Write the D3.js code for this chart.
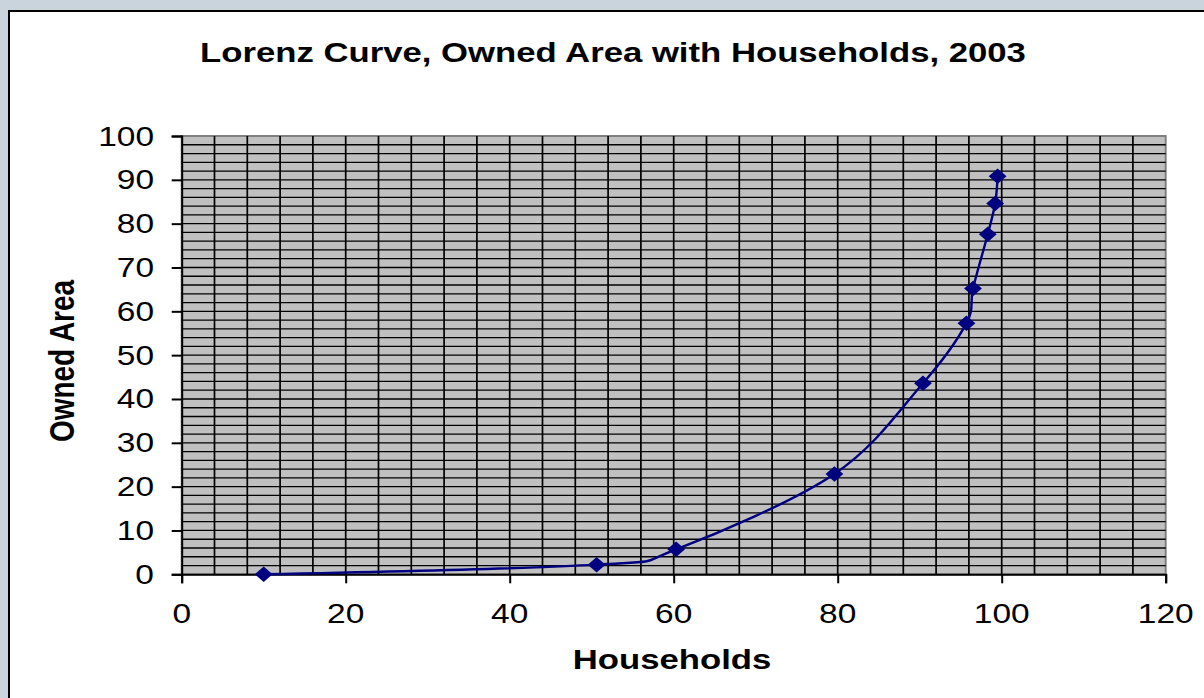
<!DOCTYPE html>
<html lang="en">
<head>
  <meta charset="utf-8">
  <title>Lorenz Curve, Owned Area with Households, 2003</title>
  <style>
    body {
      margin: 0;
      background-color: #c9d4dc;
      overflow: hidden;
    }

    text {
      font-family: Arial, "Liberation Sans", sans-serif;
      fill: #000;
    }

    .title, .axis-title {
      font-size: 28px;
      font-weight: bold;
    }

    .tick-label {
      font-size: 27px;
    }
  </style>
</head>
<body>

  <svg width="1204" height="698"></svg>
  <script src="https://d3js.org/d3.v7.min.js"></script>
  <script>

  // cumulative % of households / cumulative % of owned area
  var households = [10, 50.6, 60.3, 79.6, 90.4, 95.7, 96.5, 98.3, 99.2, 99.5];
  var ownedArea  = [0, 2.2, 5.7, 22.9, 43.6, 57.3, 65.2, 77.6, 84.6, 90.8];

  var xTicks = [0, 20, 40, 60, 80, 100, 120];
  var yTicks = [0, 10, 20, 30, 40, 50, 60, 70, 80, 90, 100];

  var svg = d3.select("svg"),
      width = +svg.attr("width"),
      height = +svg.attr("height");

  // the picture is stretched sideways a bit, text too
  var stretch = 1.24;

  var plot = { left: 181.7, right: 1165.7, top: 136, bottom: 574.3 };

  var x = d3.scaleLinear().domain([0, 120]).range([plot.left, plot.right]);
  var y = d3.scaleLinear().domain([0, 100]).range([plot.bottom, plot.top]);

  // chart area (runs off the right and bottom edge)
  svg.append("rect")
      .attr("x", 9)
      .attr("y", 11)
      .attr("width", width + 20)
      .attr("height", height + 20)
      .attr("fill", "#fff")
      .attr("stroke", "#000")
      .attr("stroke-width", 2);

  svg.append("text")
      .attr("class", "title")
      .attr("text-anchor", "middle")
      .attr("transform", "translate(613,62) scale(" + stretch + ",1)")
      .text("Lorenz Curve, Owned Area with Households, 2003");

  // plot area
  svg.append("rect")
      .attr("x", plot.left)
      .attr("y", plot.top)
      .attr("width", plot.right - plot.left)
      .attr("height", plot.bottom - plot.top)
      .attr("fill", "#c0c0c0")
      .attr("stroke", "#808080")
      .attr("stroke-width", 2);

  var grid = svg.append("g").attr("class", "grid");

  grid.selectAll("line.v")
      .data(d3.range(4, 120, 4))
      .enter().append("line")
        .attr("class", "v")
        .attr("x1", function(d) { return x(d); })
        .attr("x2", function(d) { return x(d); })
        .attr("y1", plot.top)
        .attr("y2", plot.bottom)
        .attr("stroke", "#000")
        .attr("stroke-width", 1.7);

  grid.selectAll("line.h")
      .data(d3.range(2, 100, 2))
      .enter().append("line")
        .attr("class", "h")
        .attr("x1", plot.left)
        .attr("x2", plot.right)
        .attr("y1", function(d) { return y(d); })
        .attr("y2", function(d) { return y(d); })
        .attr("stroke", "#000")
        .attr("stroke-width", 1.3);

  // axes
  var xAxis = d3.axisBottom(x).tickValues(xTicks).tickSize(9).tickFormat("");
  var yAxis = d3.axisLeft(y).tickValues(yTicks).tickSize(10).tickFormat("");

  svg.append("g")
      .attr("transform", "translate(0," + plot.bottom + ")")
      .call(xAxis)
      .call(function(g) {
        g.select(".domain").attr("stroke", "#000").attr("stroke-width", 2);
        g.selectAll(".tick line").attr("stroke", "#000").attr("stroke-width", 2);
      });

  svg.append("g")
      .attr("transform", "translate(" + plot.left + ",0)")
      .call(yAxis)
      .call(function(g) {
        g.select(".domain").attr("stroke", "#000").attr("stroke-width", 2);
        g.selectAll(".tick line").attr("stroke", "#000").attr("stroke-width", 2);
      });

  svg.selectAll("text.xlab")
      .data(xTicks)
      .enter().append("text")
        .attr("class", "tick-label xlab")
        .attr("text-anchor", "middle")
        .attr("transform", function(d) {
          return "translate(" + x(d) + ",623) scale(" + stretch + ",1)";
        })
        .text(function(d) { return d; });

  svg.selectAll("text.ylab")
      .data(yTicks)
      .enter().append("text")
        .attr("class", "tick-label ylab")
        .attr("text-anchor", "end")
        .attr("transform", function(d) {
          return "translate(154," + (y(d) + 9.5) + ") scale(" + stretch + ",1)";
        })
        .text(function(d) { return d; });

  svg.append("text")
      .attr("class", "axis-title")
      .attr("text-anchor", "middle")
      .attr("transform", "translate(672,669) scale(" + stretch + ",1)")
      .text("Households");

  svg.append("text")
      .attr("class", "axis-title")
      .attr("text-anchor", "middle")
      .attr("transform", "translate(74,361) scale(" + stretch + ",1) rotate(-90)")
      .text("Owned Area");

  // the curve
  var points = households.map(function(h, i) { return [h, ownedArea[i]]; });

  var line = d3.line()
      .x(function(d) { return x(d[0]); })
      .y(function(d) { return y(d[1]); })
      .curve(d3.curveCatmullRom.alpha(0));

  svg.append("path")
      .datum(points)
      .attr("d", line)
      .attr("fill", "none")
      .attr("stroke", "#000080")
      .attr("stroke-width", 2.4);

  var marker = d3.symbol().type(d3.symbolSquare).size(120);

  svg.selectAll("path.marker")
      .data(points)
      .enter().append("path")
        .attr("class", "marker")
        .attr("d", marker)
        .attr("fill", "#000080")
        .attr("transform", function(d) {
          return "translate(" + x(d[0]) + "," + y(d[1]) + ") scale(1.15,1) rotate(45)";
        });

  </script>

</body>
</html>
